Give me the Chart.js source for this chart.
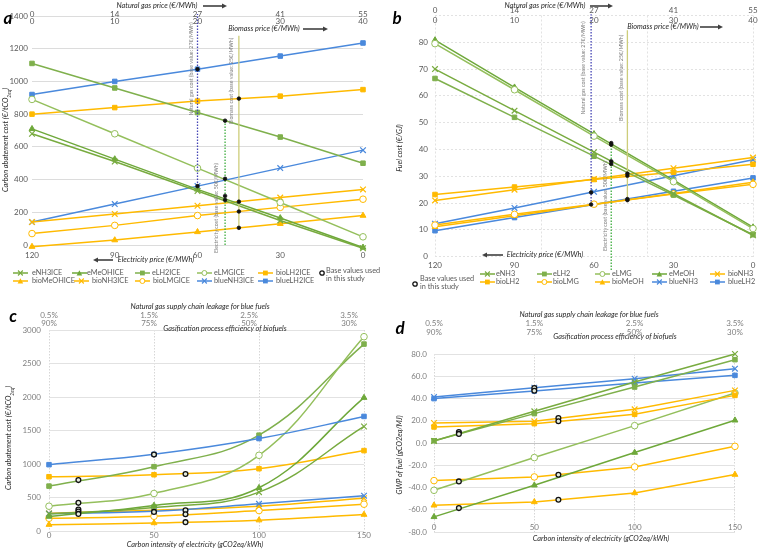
<!DOCTYPE html>
<html>
<head>
<meta charset="utf-8">
<title>Carbon abatement and fuel cost sensitivity</title>
<script src="https://cdn.jsdelivr.net/npm/chart.js@4.4.1/dist/chart.umd.min.js"></script>
<style>
  html, body { margin: 0; padding: 0; background: #fff; }
  #wrap { position: relative; width: 760px; height: 550px; overflow: hidden; font-family: Lato, "Open Sans", sans-serif; }
  #wrap canvas { position: absolute; }
  .txt { position: absolute; white-space: nowrap; line-height: 1; }
  .ax { font-size: 7.3px; font-style: italic; color: #262626; }
  .note { font-size: 5.3px; color: #808080; }
  .tag { font-size: 17px; font-weight: bold; font-style: italic; color: #000; }
  .lg { font-size: 7.3px; color: #595959; }
  svg.ic { position: absolute; overflow: visible; }
</style>
</head>
<body>
<div id="wrap">
  <canvas id="ca" width="380" height="265" style="left:0;top:0"></canvas>
  <canvas id="cb" width="380" height="270" style="left:380px;top:0"></canvas>
  <canvas id="cc" width="380" height="260" style="left:0;top:290px"></canvas>
  <canvas id="cd" width="380" height="260" style="left:380px;top:290px"></canvas>
</div>
<script>
// ---------- axes ----------
const elecPrice = [120, 90, 60, 30, 0];          // €/MWh (bottom, reversed)
const gasPrice = [0, 13.75, 27.5, 41.25, 55];    // €/MWh (top)
const gasTicks = ['0', '14', '27', '41', '55'];
const bioPrice = [0, 10, 20, 30, 40];            // €/MWh (top)
const bioTicks = ['0', '10', '20', '30', '40'];
const ciElec = [0, 50, 100, 150];                // gCO2eq/kWh
const topTickPos = [0, 1, 2, 3];
const leakTicks = ['0.5%', '1.5%', '2.5%', '3.5%'];
const gasifTicks = ['90%', '75%', '50%', '30%'];

// ---------- a: carbon abatement cost (€/tCO2eq) ----------
const aENH3 = [680, 510, 330, 150, -20];
const aEMeOH = [710, 525, 340, 165, -15];
const aELH2 = [1110, 960, 810, 660, 500];
const aELMG = [890, 680, 470, 260, 50];
const aBioLH2 = [800, 840, 880, 910, 950];
const aBioMeOH = [-10, 30, 80, 130, 180];
const aBioNH3 = [140, 190, 240, 290, 340];
const aBioLMG = [70, 120, 180, 230, 280];
const aBlueNH3 = [140, 250, 360, 470, 580];
const aBlueLH2 = [920, 1000, 1075, 1155, 1235];
const aBaseElec = 50, aBaseGas = 27.5, aBaseBio = 25;
const aBaseElecY = [760, 405, 300, 275];
const aBaseGasY = [1075, 360];
const aBaseBioY = [895, 265, 205, 105];
const aElecLine = [0, 760];
const aGasLine = [360, 1412];
const aBioLine = [105, 1280];

// ---------- b: fuel cost (€/GJ) ----------
const bENH3 = [70.0, 54.5, 39.0, 23.5, 8.0];
const bELH2 = [66.5, 52.0, 37.5, 23.0, 8.2];
const bELMG = [79.5, 62.3, 45.0, 28.0, 10.5];
const bEMeOH = [80.8, 63.2, 45.8, 28.6, 11.0];
const bBioNH3 = [21.0, 25.0, 29.0, 33.0, 37.0];
const bBioLH2 = [23.2, 26.0, 28.8, 31.5, 34.5];
const bBioLMG = [11.8, 15.8, 19.6, 23.4, 27.0];
const bBioMeOH = [11.2, 15.3, 19.5, 23.6, 27.8];
const bBlueNH3 = [12.3, 18.2, 24.2, 30.2, 36.2];
const bBlueLH2 = [9.7, 14.6, 19.5, 24.4, 29.4];
const bBaseElec = 53.5, bBaseGas = 27, bBaseBio = 24.2;
const bBaseElecY = [42.4, 41.8, 35.6, 34.6];
const bBaseGasY = [24.0, 19.5];
const bBaseBioY = [31.0, 30.2, 21.5, 21.1];
const bElecLine = [-5, 42.4];
const bGasLine = [19.5, 90.5];
const bBioLine = [21.3, 84.5];

// ---------- c: carbon abatement cost vs carbon intensity ----------
const cBlueLH2 = [990, 1145, 1380, 1710];
const cELMG = [370, 560, 1130, 2900];
const cELH2 = [670, 960, 1430, 2790];
const cEMeOH = [215, 380, 645, 1990];
const cENH3 = [255, 350, 580, 1560];
const cBioLH2 = [810, 840, 930, 1200];
const cBlueNH3 = [260, 295, 405, 527];
const cBioNH3 = [265, 310, 370, 490];
const cBioLMG = [190, 220, 305, 400];
const cBioMeOH = [95, 120, 162, 245];
const cBaseX = [14, 14, 14, 14, 14, 50, 50, 65, 65, 65, 65];
const cBaseY = [760, 420, 322, 290, 255, 1140, 285, 850, 310, 250, 132];

// ---------- d: GWP of fuel (gCO2eq/MJ) ----------
const dENH3 = [1.8, 28.5, 54.8, 80.0];
const dELH2 = [2.0, 26.4, 50.3, 74.9];
const dBlueNH3 = [41.3, 49.7, 57.8, 66.8];
const dBlueLH2 = [39.9, 46.7, 53.9, 60.8];
const dBioNH3 = [18.0, 19.5, 30.3, 47.3];
const dBioLH2 = [14.4, 17.4, 25.8, 42.8];
const dELMG = [-42.5, -13.1, 15.6, 44.9];
const dEMeOH = [-66.4, -38.0, -8.6, 20.4];
const dBioLMG = [-33.8, -30.5, -21.5, -3.0];
const dBioMeOH = [-56.0, -53.0, -44.9, -28.4];
const dBaseX = [12.4, 12.4, 12.4, 12.4, 50, 50, 62, 62, 62, 62];
const dBaseY = [9.8, 8.2, -34.5, -58.5, 49.5, 47.0, 22.5, 19.5, -28.5, -51.0];

// ---------- styling ----------
const FONT = 'Lato, "Open Sans", sans-serif';
const tickFont = { family: FONT, size: 8 };
const TICK_AB = '#595959', TICK_CD = '#7f7f7f';
const ORANGE = '#ffba00', BLUE = '#4a89dc';
const STYLE = {
  eNH3: ['#78ab3f', 'crossRot'], eMeOH: ['#6ea83a', 'triangle'], eLH2: ['#7fb04c', 'rect'], eLMG: ['#94bf5c', 'circle'],
  bioLH2: [ORANGE, 'rect'], bioMeOH: [ORANGE, 'triangle'], bioNH3: [ORANGE, 'crossRot'], bioLMG: [ORANGE, 'circle'],
  blueNH3: [BLUE, 'crossRot'], blueLH2: [BLUE, 'rect'],
};
const RAD = { rect: 3.2, triangle: 3.4, crossRot: 4, circle: 3.3 };
const plain = (v) => String(v);

const pts = (xs, ys) => ys.map((y, i) => ({ x: Array.isArray(xs) ? xs[i] : xs, y }));

// fixed axis thickness; labels are placed by padding, so they must not be clipped to the axis box
const noClip = () => undefined;
const fixH = (h) => (s) => { s.height = h; s._computeLabelArea = noClip; };
const fixW = (w) => (s) => { s.width = w; s._computeLabelArea = noClip; };

function series(key, xAxisID, xs, ys, tension) {
  const [color, style] = STYLE[key];
  return {
    label: key, xAxisID, yAxisID: 'y', data: pts(xs, ys), order: 2, showLine: true,
    borderColor: color, backgroundColor: color, borderWidth: 1.5,
    pointStyle: style, pointRadius: RAD[style], pointBorderWidth: style === 'crossRot' ? 1.2 : 1,
    pointBorderColor: color, pointBackgroundColor: style === 'circle' ? '#fff' : color,
    tension: tension || 0, clip: false,
  };
}
function baseDots(xAxisID, xs, ys, hollow) {
  return {
    label: 'base', xAxisID, yAxisID: 'y', data: pts(xs, ys), order: 0, showLine: false,
    pointStyle: 'circle', pointRadius: hollow ? 2.4 : 1.8, pointBorderWidth: hollow ? 1.3 : 0.8,
    pointBorderColor: '#111', pointBackgroundColor: hollow ? '#e4ebdc' : '#111', clip: false,
  };
}
function baseLine(xAxisID, x, ys, color, dash) {
  return {
    label: 'ref', xAxisID, yAxisID: 'y', data: pts(x, ys), order: 1, showLine: true,
    borderColor: color, borderWidth: 1.3, borderDash: dash || [], pointRadius: 0, clip: false,
  };
}
function topAxis(min, max, vals, labels, weight, h, pad, color) {
  return {
    type: 'linear', position: 'top', min, max, weight,
    afterFit: fixH(h),
    afterBuildTicks: (s) => { s.ticks = vals.map((v) => ({ value: v })); },
    grid: { display: false, drawTicks: false }, border: { display: false },
    ticks: { autoSkip: false, maxRotation: 0, padding: pad, color, font: tickFont,
             callback: (v, i) => labels[i] },
  };
}
function make(id, datasets, scales, padding) {
  return new Chart(document.getElementById(id), {
    type: 'scatter',
    data: { datasets },
    options: {
      responsive: false, animation: false, events: [],
      layout: { padding },
      plugins: { legend: { display: false }, tooltip: { enabled: false } },
      scales,
    },
  });
}

// ---------- panel a ----------
make('ca', [
  baseDots('x', aBaseElec, aBaseElecY), baseDots('xg', aBaseGas, aBaseGasY), baseDots('xb', aBaseBio, aBaseBioY),
  baseLine('xg', aBaseGas, aGasLine, '#4545b5', [1.5, 1.5]),
  baseLine('x', aBaseElec, aElecLine, '#3fae3f', [1.5, 1.5]),
  baseLine('xb', aBaseBio, aBioLine, '#cdcd7a'),
  series('eNH3', 'x', elecPrice, aENH3), series('eMeOH', 'x', elecPrice, aEMeOH),
  series('eLH2', 'x', elecPrice, aELH2), series('eLMG', 'x', elecPrice, aELMG),
  series('bioLH2', 'xb', bioPrice, aBioLH2), series('bioMeOH', 'xb', bioPrice, aBioMeOH),
  series('bioNH3', 'xb', bioPrice, aBioNH3), series('bioLMG', 'xb', bioPrice, aBioLMG),
  series('blueNH3', 'xg', gasPrice, aBlueNH3), series('blueLH2', 'xg', gasPrice, aBlueLH2),
], {
  x: { type: 'linear', position: 'bottom', reverse: true, min: 0, max: 120, weight: 1,
       afterFit: fixH(20),
       grid: { display: false, drawTicks: false }, border: { display: false },
       ticks: { stepSize: 30, padding: 6, maxRotation: 0, color: TICK_AB, font: tickFont } },
  xg: topAxis(0, 55, gasPrice, gasTicks, 2, 15, -3.8, TICK_AB),
  xb: topAxis(0, 40, bioPrice, bioTicks, 1, 1, -9.8, TICK_AB),
  y: { type: 'linear', min: 0, max: 1400, afterFit: fixW(32),
       grid: { color: '#dcdcdc', drawTicks: false }, border: { display: false },
       ticks: { stepSize: 200, padding: 4, color: TICK_AB, font: tickFont, callback: plain } },
}, { left: 0, right: 17, top: 0, bottom: 0 });

// ---------- panel b ----------
make('cb', [
  baseDots('x', bBaseElec, bBaseElecY), baseDots('xg', bBaseGas, bBaseGasY), baseDots('xb', bBaseBio, bBaseBioY),
  baseLine('xg', bBaseGas, bGasLine, '#4545b5', [1.5, 1.5]),
  baseLine('x', bBaseElec, bElecLine, '#3fae3f', [1.5, 1.5]),
  baseLine('xb', bBaseBio, bBioLine, '#cdcd7a'),
  series('eNH3', 'x', elecPrice, bENH3), series('eLH2', 'x', elecPrice, bELH2),
  series('eLMG', 'x', elecPrice, bELMG), series('eMeOH', 'x', elecPrice, bEMeOH),
  series('bioNH3', 'xb', bioPrice, bBioNH3), series('bioLH2', 'xb', bioPrice, bBioLH2),
  series('bioLMG', 'xb', bioPrice, bBioLMG), series('bioMeOH', 'xb', bioPrice, bBioMeOH),
  series('blueNH3', 'xg', gasPrice, bBlueNH3), series('blueLH2', 'xg', gasPrice, bBlueLH2),
], {
  x: { type: 'linear', position: 'bottom', reverse: true, min: 0, max: 120, weight: 1,
       afterFit: fixH(13.3),
       grid: { display: false, drawTicks: false }, border: { display: false },
       ticks: { stepSize: 30, padding: 3.5, maxRotation: 0, color: TICK_AB, font: tickFont } },
  xgrid: { type: 'linear', position: 'bottom', reverse: true, min: 0, max: 120, weight: 3,
       afterFit: fixH(0),
       grid: { color: '#e2e2e2', drawTicks: false }, border: { display: false, dash: [2, 2] },
       ticks: { display: false, stepSize: 40 } },
  xg: topAxis(0, 55, gasPrice, gasTicks, 2, 14.5, -1, TICK_AB),
  xb: topAxis(0, 40, bioPrice, bioTicks, 1, 1, -9.3, TICK_AB),
  y: { type: 'linear', min: 0, max: 90, afterFit: fixW(55),
       grid: { color: '#e2e2e2', drawTicks: false }, border: { display: false, dash: [2, 2] },
       ticks: { stepSize: 10, padding: 7, color: TICK_AB, font: tickFont,
                callback: (v) => (v === 90 ? '' : String(v)) } },
}, { left: 0, right: 7, top: 0, bottom: 0 });

// ---------- panel c ----------
make('cc', [
  baseDots('x', cBaseX, cBaseY, true),
  series('blueLH2', 'x', ciElec, cBlueLH2, 0.4), series('eLMG', 'x', ciElec, cELMG, 0.4),
  series('eLH2', 'x', ciElec, cELH2, 0.4), series('eMeOH', 'x', ciElec, cEMeOH, 0.4),
  series('eNH3', 'x', ciElec, cENH3, 0.4), series('bioLH2', 'x', ciElec, cBioLH2, 0.4),
  series('blueNH3', 'x', ciElec, cBlueNH3, 0.4), series('bioNH3', 'x', ciElec, cBioNH3, 0.4),
  series('bioLMG', 'x', ciElec, cBioLMG, 0.4), series('bioMeOH', 'x', ciElec, cBioMeOH, 0.4),
], {
  x: { type: 'linear', position: 'bottom', min: 0, max: 150, weight: 1,
       afterFit: fixH(19),
       grid: { color: '#d6d6d6', drawTicks: false }, border: { display: false, dash: [1.5, 1.5] },
       ticks: { stepSize: 50, padding: 0, maxRotation: 0, color: TICK_CD, font: tickFont } },
  xl: topAxis(0, 3.15, topTickPos, leakTicks, 2, 30, 0.2, TICK_CD),
  xe: topAxis(0, 3.15, topTickPos, gasifTicks, 1, 10, 2.2, TICK_CD),
  y: { type: 'linear', min: 0, max: 3000, afterFit: fixW(49),
       grid: { color: '#e2e2e2', drawTicks: false }, border: { display: false },
       ticks: { stepSize: 500, padding: 8, color: TICK_CD, font: tickFont, callback: plain } },
}, { left: 0, right: 16, top: 0, bottom: 0 });

// ---------- panel d ----------
make('cd', [
  baseDots('x', dBaseX, dBaseY, true),
  series('eNH3', 'x', ciElec, dENH3), series('eLH2', 'x', ciElec, dELH2),
  series('blueNH3', 'x', ciElec, dBlueNH3), series('blueLH2', 'x', ciElec, dBlueLH2),
  series('bioNH3', 'x', ciElec, dBioNH3), series('bioLH2', 'x', ciElec, dBioLH2),
  series('eLMG', 'x', ciElec, dELMG), series('eMeOH', 'x', ciElec, dEMeOH),
  series('bioLMG', 'x', ciElec, dBioLMG), series('bioMeOH', 'x', ciElec, dBioMeOH),
], {
  x: { type: 'linear', position: 'bottom', min: 0, max: 150, weight: 1,
       afterFit: fixH(18),
       grid: { color: '#d6d6d6', drawTicks: false }, border: { display: false, dash: [1.5, 1.5] },
       ticks: { stepSize: 50, padding: -9, maxRotation: 0, color: TICK_CD, font: tickFont } },
  xl: topAxis(0, 3, topTickPos, leakTicks, 2, 40, 2.2, TICK_CD),
  xe: topAxis(0, 3, topTickPos, gasifTicks, 1, 24, 17.2, TICK_CD),
  y: { type: 'linear', min: -80, max: 80, afterFit: fixW(54),
       grid: { drawTicks: false, color: (ctx) => (ctx.tick && ctx.tick.value === 0 ? '#c4c4c4' : '#e2e2e2') },
       border: { display: false },
       ticks: { stepSize: 20, padding: 7, color: TICK_CD, font: tickFont, callback: (v) => v.toFixed(1) } },
}, { left: 0, right: 13, top: 0, bottom: 0 });

// ---------- text, arrows, legends ----------
const wrap = document.getElementById('wrap');
function put(html, cls, x, y, rot) {
  const el = document.createElement('div');
  el.className = 'txt ' + cls;
  el.innerHTML = html;
  el.style.left = x + 'px';
  el.style.top = y + 'px';
  el.style.transform = 'translate(-50%, -50%)' + (rot ? ' rotate(-90deg)' : '');
  wrap.appendChild(el);
}
function putLeft(html, cls, x, y) {
  const el = document.createElement('div');
  el.className = 'txt ' + cls;
  el.innerHTML = html;
  el.style.left = x + 'px';
  el.style.top = y + 'px';
  el.style.transform = 'translateY(-50%)';
  wrap.appendChild(el);
}
function svg(x, y, w, h, inner) {
  const s = `<svg class="ic" style="left:${x}px;top:${y}px" width="${w}" height="${h}" xmlns="http://www.w3.org/2000/svg">${inner}</svg>`;
  wrap.insertAdjacentHTML('beforeend', s);
}
function arrow(x1, x2, y) {
  const dir = x2 > x1 ? 1 : -1;
  const left = Math.min(x1, x2);
  const a = x1 - left, b = x2 - left;
  svg(left, y - 3, Math.abs(x2 - x1), 6,
    `<line x1="${a}" y1="3" x2="${b - dir * 4}" y2="3" stroke="#404040" stroke-width="1.6"/>` +
    `<path d="M${b} 3 L${b - dir * 5} 0.5 L${b - dir * 5} 5.5Z" fill="#404040"/>`);
}
function legendMark(x, y, key) {
  const [color, style] = STYLE[key];
  let m = '';
  if (style === 'rect') m = `<rect x="5" y="1.6" width="4.8" height="4.8" fill="${color}"/>`;
  if (style === 'triangle') m = `<path d="M7.4 1.2 L10.2 6.4 L4.6 6.4Z" fill="${color}"/>`;
  if (style === 'crossRot') m = `<path d="M5 1.5L9.8 6.5M9.8 1.5L5 6.5" stroke="${color}" stroke-width="1.1"/>`;
  if (style === 'circle') m = `<circle cx="7.4" cy="4" r="2.5" fill="#fff" stroke="${color}" stroke-width="1"/>`;
  svg(x, y - 4, 15, 8, `<line x1="0" y1="4" x2="15" y2="4" stroke="${color}" stroke-width="1.5"/>${m}`);
}
function baseMark(x, y) {
  svg(x - 3, y - 3, 6, 6, '<circle cx="3" cy="3" r="2.2" fill="#fff" stroke="#111" stroke-width="1.3"/>');
}

// panel letters
put('a', 'tag', 8, 17); put('b', 'tag', 397, 17);
put('c', 'tag', 13, 315); put('d', 'tag', 400, 327);

// panel a titles
put('Natural gas price (€/MWh)', 'ax', 157, 6); arrow(203, 227, 6);
put('Biomass price (€/MWh)', 'ax', 264, 29); arrow(303, 328, 29);
put('Electricity price (€/MWh)', 'ax', 156, 260); arrow(113, 93, 260);
put('Carbon abatement cost (€/tCO<sub style="font-size:5px">2eq</sub>)', 'ax', 7, 140, true);
put('Natural gas cost (base value: 27€/MWh)', 'note', 192, 69, true);
put('Biomass cost (base value: 25€/MWh)', 'note', 232, 81, true);
put('Electricity cost (base value: 50€/MWh)', 'note', 217, 208, true);

// panel b titles
put('Natural gas price (€/MWh)', 'ax', 545, 6); arrow(590, 613, 6);
put('Biomass price (€/MWh)', 'ax', 663, 27); arrow(700, 723, 27);
put('Electricity price (€/MWh)', 'ax', 545, 255); arrow(503, 482, 255);
put('Fuel cost (€/GJ)', 'ax', 400, 148, true);
put('Natural gas cost (base value: 27€/MWh)', 'note', 584, 68, true);
put('Biomass cost (base value: 25€/MWh)', 'note', 622, 78, true);
put('Electricity cost (base value: 50€/MWh)', 'note', 606, 206, true);

// panel c titles
put('Natural gas supply chain leakage for blue fuels', 'ax', 200, 307);
put('Gasification process efficiency of biofuels', 'ax', 225, 329);
put('Carbon intensity of electricity (gCO2eq/kWh)', 'ax', 195, 545);
put('Carbon abatement cost (€/tCO<sub style="font-size:5px">2eq</sub>)', 'ax', 10, 438, true);

// panel d titles
put('Natural gas supply chain leakage for blue fuels', 'ax', 589, 315);
put('Gasification process efficiency of biofuels', 'ax', 615, 337);
put('Carbon intensity of electricity (gCO2eq/kWh)', 'ax', 601, 539);
put('GWP of fuel (gCO2eq/MJ)', 'ax', 400, 455, true);

// legend a
const legA = [
  ['eNH3', 'eNH3ICE', 13, 32, 273], ['eMeOH', 'eMeOHICE', 72, 87, 273], ['eLH2', 'eLH2ICE', 135, 152, 273],
  ['eLMG', 'eLMGICE', 197, 214, 273], ['bioLH2', 'bioLH2ICE', 258, 276, 273],
  ['bioMeOH', 'bioMeOHICE', 13, 32, 281], ['bioNH3', 'bioNH3ICE', 74, 92, 281], ['bioLMG', 'bioLMGICE', 135, 153, 281],
  ['blueNH3', 'blueNH3ICE', 197, 214, 281], ['blueLH2', 'blueLH2ICE', 258, 276, 281],
];
legA.forEach(([k, t, sx, tx, y]) => { legendMark(sx, y, k); putLeft(t, 'lg', tx, y); });
baseMark(322, 273);
putLeft('Base values used', 'lg', 326, 271); putLeft('in this study', 'lg', 326, 279);

// legend b
const legB = [
  ['eNH3', 'eNH3', 480, 496, 274], ['eLH2', 'eLH2', 537, 553, 274], ['eLMG', 'eLMG', 595, 612, 274],
  ['eMeOH', 'eMeOH', 652, 669, 274], ['bioNH3', 'bioNH3', 710, 728, 274],
  ['bioLH2', 'bioLH2', 480, 496, 282], ['bioLMG', 'bioLMG', 537, 553, 282], ['bioMeOH', 'bioMeOH', 595, 612, 282],
  ['blueNH3', 'blueNH3', 652, 669, 282], ['blueLH2', 'blueLH2', 710, 728, 282],
];
legB.forEach(([k, t, sx, tx, y]) => { legendMark(sx, y, k); putLeft(t, 'lg', tx, y); });
baseMark(415, 284);
putLeft('Base values used', 'lg', 420, 279); putLeft('in this study', 'lg', 420, 287);
</script>
</body>
</html>
